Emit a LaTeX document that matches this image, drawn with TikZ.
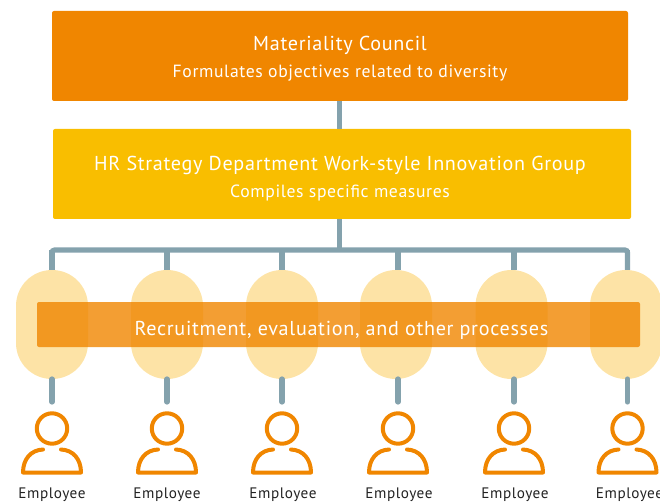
\documentclass[tikz,border=0pt]{standalone}
\usepackage{fontspec}
\setmainfont[LetterSpace=3.5]{PT Sans}
\definecolor{cOrange}{HTML}{F08600}
\definecolor{cYellow}{HTML}{F9BE00}
\definecolor{cLine}{HTML}{84A2AD}
\definecolor{cCaps}{HTML}{FDE3A6}
\definecolor{cText}{HTML}{222222}
\tikzset{
  x=0.75pt,y=-0.75pt,
  boxnode/.style={anchor=center,inner sep=0pt,outer sep=0pt,rounded corners=1.5pt,minimum height=67.5pt,text=white,align=center},
  capsule/.style={anchor=center,fill=cCaps,inner sep=0pt,outer sep=0pt,minimum width=54pt,minimum height=81.75pt,rounded corners=26.9pt},
  conn/.style={draw=cLine,line width=3.9pt},
  person/.style={draw=cOrange,line width=3pt,line cap=round,line join=round},
  emp/.style={text=cText,font=\fontsize{11.4pt}{13pt}\selectfont,inner sep=0pt,anchor=center},
  mainlab/.style={font=\fontsize{15.1pt}{17pt}\selectfont},
  sublab/.style={font=\fontsize{13.25pt}{15pt}\selectfont},
}
\begin{document}
\begin{tikzpicture}
\useasboundingbox (0,0) rectangle (660,502);
\node[boxnode,fill=cOrange,minimum width=432pt] (council) at (340,56) {};
\node[boxnode,fill=cYellow,minimum width=433.5pt] (hr) at (342,174) {};
\draw[conn] (council.south -| 339.5,0) -- (hr.north -| 339.5,0);
\coordinate (bus) at (339.5,250);
\draw[conn] (hr.south -| bus) -- (bus);
\draw[conn,rounded corners=2pt] (52,270) |- (627.5,250) -- (627.5,270);
\foreach \n/\lx/\cx/\tx in {a/52/52/52,b/167/167/167,c/282/282/283,d/398/396/399,e/514/511.5/515,f/627.5/626/629.5}{
  \node[capsule] (caps\n) at (\cx,324.5) {};
  \coordinate (top\n) at (\lx,250);
  \coordinate (ct\n) at (\lx,270);
  \coordinate (cb\n) at (\lx,379);
  \coordinate (low\n) at (\lx,402);
  \draw[conn] (top\n) -- (ct\n);
  \draw[conn,line cap=round] (cb\n) -- (low\n);
  \draw[person] (\lx,428.5) circle (15.2);
  \draw[person] (\lx-9,449.5) .. controls (\lx-21,450) and (\lx-29,459) .. (\lx-29,472.5) -- (\lx+29,472.5) .. controls (\lx+29,459) and (\lx+21,450) .. (\lx+9,449.5);
  \node[emp] (emp\n) at (\tx,494.8) {Employee};
}
\node[anchor=center,inner sep=0pt,outer sep=0pt,fill=cOrange,fill opacity=0.8,rounded corners=1.5pt,minimum width=452.25pt,minimum height=33.75pt] (band) at (338.5,324.5) {};
\node[text=white,mainlab,inner sep=0pt] (t5) at (341.5,330) {Recruitment, evaluation, and other processes};
\node[text=white,mainlab,inner sep=0pt] (t1) at (340,45.5) {Materiality Council};
\node[text=white,sublab,inner sep=0pt] (t2) at (340,73) {Formulates objectives related to diversity};
\node[text=white,mainlab,inner sep=0pt] (t3) at (340,165.5) {HR Strategy Department Work-style Innovation Group};
\node[text=white,sublab,inner sep=0pt] (t4) at (340,193) {Compiles specific measures};
\end{tikzpicture}
\end{document}
